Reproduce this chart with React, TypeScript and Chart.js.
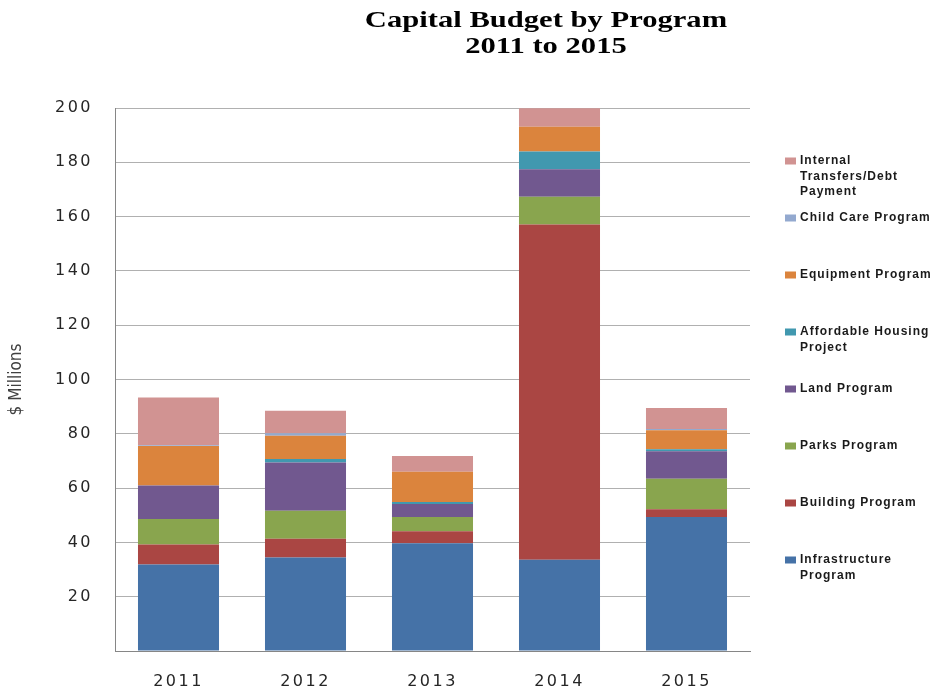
import React, { useEffect, useRef } from "react";
import { Chart, registerables } from "chart.js";

Chart.register(...registerables);

const years = ["2011", "2012", "2013", "2014", "2015"];
const infrastructure = [31.9, 34.4, 39.7, 33.6, 49.4];
const building = [7.3, 6.9, 4.4, 123.5, 2.8];
const parks = [9.4, 10.4, 5.3, 10.2, 11.2];
const land = [12.4, 17.7, 4.7, 10.1, 10.2];
const affordable = [0, 1.3, 0.8, 6.6, 0.7];
const equipment = [14.5, 8.6, 11.1, 9.1, 7.0];
const childCare = [0.3, 0.9, 0, 0, 0.5];
const internal = [17.6, 8.3, 5.8, 6.8, 7.7];

const seriesNames = [
  "Infrastructure Program",
  "Building Program",
  "Parks Program",
  "Land Program",
  "Affordable Housing Project",
  "Equipment Program",
  "Child Care Program",
  "Internal Transfers/Debt Payment",
];
const legendLines = [
  ["Infrastructure", "Program"],
  ["Building Program"],
  ["Parks Program"],
  ["Land Program"],
  ["Affordable Housing", "Project"],
  ["Equipment Program"],
  ["Child Care Program"],
  ["Internal", "Transfers/Debt", "Payment"],
];
const seriesColors = [
  "#4572A7",
  "#AA4643",
  "#89A54E",
  "#71588F",
  "#4198AF",
  "#DB843D",
  "#93A9CF",
  "#D19392",
];
const seriesValues = [infrastructure, building, parks, land, affordable, equipment, childCare, internal];
const titleLines = ["Capital Budget by Program", "2011 to 2015"];
const yTitle = "$ Millions";

const decorPlugin = {
  id: "decor",
  beforeDraw(chart: any) {
    (chart.ctx as any).letterSpacing = "2.5px";
  },
  afterDraw(chart: any) {
    const ctx = chart.ctx;
    const area = chart.chartArea;
    ctx.save();
    (ctx as any).letterSpacing = "0px";
    // Title
    ctx.fillStyle = "#000";
    ctx.font = "bold 23px 'Liberation Serif', 'Times New Roman', serif";
    ctx.textAlign = "center";
    ctx.textBaseline = "alphabetic";
    const baselines = [27, 53];
    titleLines.forEach((t, i) => {
      ctx.save();
      ctx.translate(546, baselines[i]);
      ctx.scale(1.33, 1);
      ctx.fillText(t, 0, 0);
      ctx.restore();
    });
    // Y title
    ctx.save();
    ctx.translate(16.5, (area.top + area.bottom) / 2);
    ctx.rotate(-Math.PI / 2);
    ctx.font = "17px 'DejaVu Sans Condensed', 'DejaVu Sans', sans-serif";
    ctx.fillStyle = "#404040";
    ctx.textAlign = "center";
    ctx.textBaseline = "middle";
    ctx.fillText(yTitle, 0, 0);
    ctx.restore();
    // Legend (top to bottom: reverse of stacking order)
    (ctx as any).letterSpacing = "1px";
    ctx.font = "bold 12px 'Liberation Sans', Arial, sans-serif";
    ctx.textAlign = "left";
    ctx.textBaseline = "middle";
    const start = area.top + 53;
    const step = 57;
    const n = seriesNames.length;
    for (let k = 0; k < n; k++) {
      const idx = n - 1 - k;
      const y = start + k * step;
      ctx.fillStyle = seriesColors[idx];
      ctx.fillRect(area.right + 35, y - 3.5, 11, 7);
      ctx.fillStyle = "#1a1a1a";
      legendLines[idx].forEach((line, j) => {
        ctx.fillText(line, area.right + 50, y + j * 15.5);
      });
    }
    ctx.restore();
    (ctx as any).letterSpacing = "0px";
  },
};

export default function App() {
  const canvasRef = useRef<HTMLCanvasElement | null>(null);

  useEffect(() => {
    if (!canvasRef.current) return;
    const chart = new Chart(canvasRef.current, {
      type: "bar",
      data: {
        labels: years,
        datasets: seriesNames.map((name, i) => ({
          label: name,
          data: seriesValues[i],
          backgroundColor: seriesColors[i],
          borderWidth: 0,
          barPercentage: 0.638,
          categoryPercentage: 1,
        })),
      },
      options: {
        animation: false,
        responsive: false,
        layout: { padding: { top: 108, right: 183, left: 0, bottom: 0 } },
        plugins: {
          legend: { display: false },
          title: { display: false },
          tooltip: { enabled: false },
        },
        scales: {
          x: {
            stacked: true,
            z: 1,
            grid: { display: false, drawTicks: false },
            border: { display: true, color: "#868686", width: 1 },
            ticks: {
              color: "#262626",
              font: { family: "'DejaVu Sans', sans-serif", size: 16 },
              padding: 21,
              maxRotation: 0,
            },
            afterFit(scale: any) {
              scale.height = 43;
            },
          },
          y: {
            stacked: true,
            min: 0,
            max: 200,
            grid: { color: "#b0b0b0", drawTicks: false, lineWidth: 1 },
            border: { display: true, color: "#868686", width: 1 },
            ticks: {
              stepSize: 20,
              color: "#262626",
              font: { family: "'DejaVu Sans', sans-serif", size: 16 },
              padding: 22,
              callback: (v: any) => (v === 0 ? "" : String(v)),
            },
            afterFit(scale: any) {
              scale.width = 115;
            },
          },
        },
      },
      plugins: [decorPlugin],
    });
    return () => chart.destroy();
  }, []);

  return (
    <div style={{ position: "absolute", left: 0, top: 0, width: 933, height: 694, background: "#fff" }}>
      <canvas ref={canvasRef} width={933} height={694} />
    </div>
  );
}
